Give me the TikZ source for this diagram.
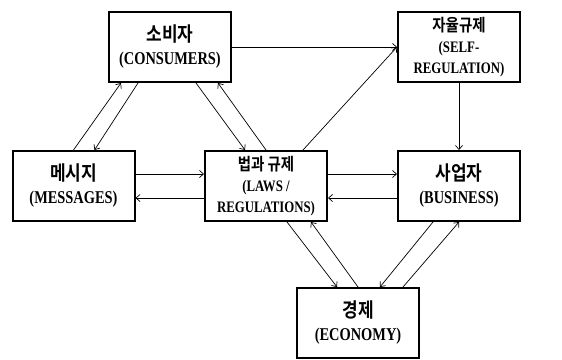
\documentclass[tikz,border=0pt]{standalone}
\usepackage{fontspec}
\setmainfont{Liberation Serif}[FakeStretch=0.8]
\newfontfamily\kofont{Noto Sans CJK KR}[FakeStretch=0.85,BoldFont={Noto Sans CJK KR Bold}]
\usetikzlibrary{positioning,arrows.meta}
\tikzset{
  box/.style={draw,line width=2pt,minimum width=122pt,minimum height=70pt,
    align=center,inner sep=2pt,font=\fontsize{18}{23}\selectfont\bfseries},
  boxsmall/.style={box,font=\fontsize{16}{21}\selectfont\bfseries},
  link/.style={line width=0.7pt,-{Straight Barb[length=4pt,width=7pt]}}
}
\newcommand{\ko}[1]{{\kofont\bfseries\fontsize{20}{23}\selectfont #1}}
\newcommand{\kosmall}[1]{{\kofont\bfseries\fontsize{17}{21}\selectfont #1}}

\begin{document}
\begin{tikzpicture}[x=1pt,y=-1pt]
        \useasboundingbox (0,0) rectangle (562,359);
        % boxes
        \node[box] (cons) at (170,47) {\ko{소비자}\\(CONSUMERS)};
        \node[boxsmall] (self) at (459,47) {\kosmall{자율규제}\\(SELF-\\REGULATION)};
        \node[box] (msg) at (73.5,186) {\ko{메시지}\\(MESSAGES)};
        \node[boxsmall] (laws) at (266,186) {\kosmall{법과 규제}\\(LAWS /\\REGULATIONS)};
        \node[box] (bus) at (459,186) {\ko{사업자}\\(BUSINESS)};
        \node[box] (eco) at (358,323) {\ko{경제}\\(ECONOMY)};
        % links
        \draw[link] (msg.north) -- ([xshift=-49]cons.south);
        \draw[link] ([xshift=-32]cons.south) -- ([xshift=21]msg.north);
        \draw[link] ([xshift=26]cons.south) -- ([xshift=-21]laws.north);
        \draw[link] (laws.north) -- ([xshift=48]cons.south);
        \draw[link] (cons.east) -- (self.west);
        \draw[link] ([xshift=37]laws.north) -- (self.west);
        \draw[link] (self.south) -- (bus.north);
        \draw[link] ([yshift=12]msg.east) -- ([yshift=12]laws.west);
        \draw[link] ([yshift=-12]laws.west) -- ([yshift=-12]msg.east);
        \draw[link] ([yshift=12]laws.east) -- ([yshift=12]bus.west);
        \draw[link] ([yshift=-12]bus.west) -- ([yshift=-12]laws.east);
        \draw[link] ([xshift=21]laws.south) -- ([xshift=-21]eco.north);
        \draw[link] (eco.north) -- ([xshift=45]laws.south);
        \draw[link] ([xshift=-26]bus.south) -- ([xshift=22]eco.north);
        \draw[link] ([xshift=45]eco.north) -- (bus.south);
      \end{tikzpicture}
\end{document}
